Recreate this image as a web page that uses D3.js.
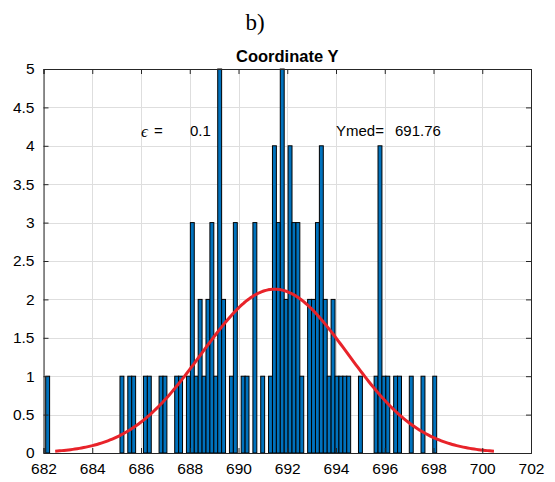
<!DOCTYPE html>
<html>
<head>
<meta charset="utf-8">
<script src="https://cdn.jsdelivr.net/npm/d3@7"></script>
<style>
  body { margin: 0; background: #fff; }
  svg { display: block; }
</style>
</head>
<body>
<svg id="chart" width="555" height="482"></svg>
<script>
// Histogram of the Y coordinate: 100 equal bins starting at binStart
const binStart = 682.09;
const binWidth = 0.1604;
const counts = [
  1,0,0,0,0,0,0,0,0,0,
  0,0,0,0,0,0,0,0,0,1,
  0,1,1,0,0,1,1,0,0,1,
  1,0,0,1,1,0,1,3,1,2,
  1,2,3,1,5,2,0,1,3,0,
  1,1,0,3,0,1,0,1,4,3,
  5,2,4,3,3,1,0,2,2,3,
  4,2,1,2,1,1,1,1,0,0,
  1,0,0,0,1,4,1,1,0,1,
  1,0,0,1,0,0,1,0,0,1
];

// Normal fit overlaid on the histogram
const fitMean = 691.48;
const fitSigma = 3.0;
const sampleSize = 100;

// Axis ticks
const xTicks = [682, 684, 686, 688, 690, 692, 694, 696, 698, 700, 702];
const yTicks = [0, 0.5, 1, 1.5, 2, 2.5, 3, 3.5, 4, 4.5, 5];
const yTickLabels = ["0", "0.5", "1", "1.5", "2", "2.5", "3", "3.5", "4", "4.5", "5"];

// Annotations
const panelLabel = "b)";
const chartTitle = "Coordinate Y";
const epsilonSymbol = "\u03F5";
const epsilonValue = "0.1";
const ymedLabel = "Ymed=";
const ymedValue = "691.76";

const svg = d3.select("#chart");
const margin = { left: 43.5, right: 531, top: 69, bottom: 453 };

const x = d3.scaleLinear().domain([682, 702]).range([margin.left, margin.right]);
const y = d3.scaleLinear().domain([0, 5]).range([margin.bottom, margin.top]);

const axisColor = "#262626";
const font = "'Liberation Sans', Arial, sans-serif";

// Grid
const grid = svg.append("g").attr("class", "grid");
grid.selectAll("line.vx").data(xTicks).join("line")
  .attr("x1", d => Math.round(x(d)) + 0.5).attr("x2", d => Math.round(x(d)) + 0.5)
  .attr("y1", margin.top).attr("y2", margin.bottom)
  .attr("stroke", "#dedede").attr("stroke-width", 1);
grid.selectAll("line.hy").data(yTicks).join("line")
  .attr("y1", d => Math.round(y(d)) + 0.5).attr("y2", d => Math.round(y(d)) + 0.5)
  .attr("x1", margin.left).attr("x2", margin.right)
  .attr("stroke", "#dedede").attr("stroke-width", 1);

// Bars
const bins = counts.map((c, i) => ({ x0: binStart + i * binWidth, x1: binStart + (i + 1) * binWidth, count: c }))
  .filter(b => b.count > 0);
svg.append("g").selectAll("rect").data(bins).join("rect")
  .attr("x", d => x(d.x0))
  .attr("width", d => x(d.x1) - x(d.x0))
  .attr("y", d => y(d.count))
  .attr("height", d => y(0) - y(d.count))
  .attr("fill", "#0072BD")
  .attr("stroke", "#000")
  .attr("stroke-width", 1);

// Normal fit curve scaled to counts
const pdf = v => Math.exp(-0.5 * ((v - fitMean) / fitSigma) ** 2) / (fitSigma * Math.sqrt(2 * Math.PI));
const curveX = d3.range(0, 201).map(k => fitMean - 3 * fitSigma + k * (6 * fitSigma / 200));
svg.append("path")
  .datum(curveX)
  .attr("fill", "none")
  .attr("stroke", "#E8232A")
  .attr("stroke-width", 3)
  .attr("stroke-linejoin", "round")
  .attr("d", d3.line().x(d => x(d)).y(d => y(sampleSize * binWidth * pdf(d))));

// Axes: ticks on all four sides, pointing inward
const tickLen = 5;
const axB = svg.append("g").attr("transform", `translate(0,${margin.bottom})`)
  .call(d3.axisBottom(x).tickValues(xTicks).tickSize(-tickLen).tickPadding(9).tickFormat(d3.format("d")));
const axT = svg.append("g").attr("transform", `translate(0,${margin.top})`)
  .call(d3.axisTop(x).tickValues(xTicks).tickSize(-tickLen).tickFormat(""));
const axL = svg.append("g").attr("transform", `translate(${margin.left},0)`)
  .call(d3.axisLeft(y).tickValues(yTicks).tickSize(-tickLen).tickPadding(9).tickFormat((d, i) => yTickLabels[i]));
const axR = svg.append("g").attr("transform", `translate(${margin.right},0)`)
  .call(d3.axisRight(y).tickValues(yTicks).tickSize(-tickLen).tickFormat(""));

[axB, axT, axL, axR].forEach(a => {
  a.select(".domain").attr("stroke", axisColor).attr("stroke-width", 1);
  a.selectAll(".tick line").attr("stroke", axisColor);
  a.selectAll("text").attr("fill", "#000").style("font-family", font).style("font-size", "15.5px");
});
axB.selectAll("text").attr("dy", "0.8em");

// Titles and annotations
svg.append("text").attr("x", 255).attr("y", 30).attr("text-anchor", "middle")
  .style("font-family", "'Liberation Serif', 'Times New Roman', serif").style("font-size", "23px")
  .text(panelLabel);
svg.append("text").attr("x", (margin.left + margin.right) / 2).attr("y", 62).attr("text-anchor", "middle")
  .style("font-family", font).style("font-size", "16.5px").style("font-weight", "bold")
  .text(chartTitle);

svg.append("text").attr("x", 141).attr("y", 137)
  .style("font-family", "'Liberation Serif', 'Times New Roman', serif").style("font-size", "17px")
  .style("font-style", "italic")
  .text(epsilonSymbol);
svg.append("text").attr("x", 154).attr("y", 136)
  .style("font-family", font).style("font-size", "15px")
  .text("=");
svg.append("text").attr("x", 190).attr("y", 136)
  .style("font-family", font).style("font-size", "15px")
  .text(epsilonValue);
svg.append("text").attr("x", 336).attr("y", 136)
  .style("font-family", font).style("font-size", "15px")
  .text(ymedLabel);
svg.append("text").attr("x", 395).attr("y", 136)
  .style("font-family", font).style("font-size", "15px")
  .text(ymedValue);
</script>
</body>
</html>
